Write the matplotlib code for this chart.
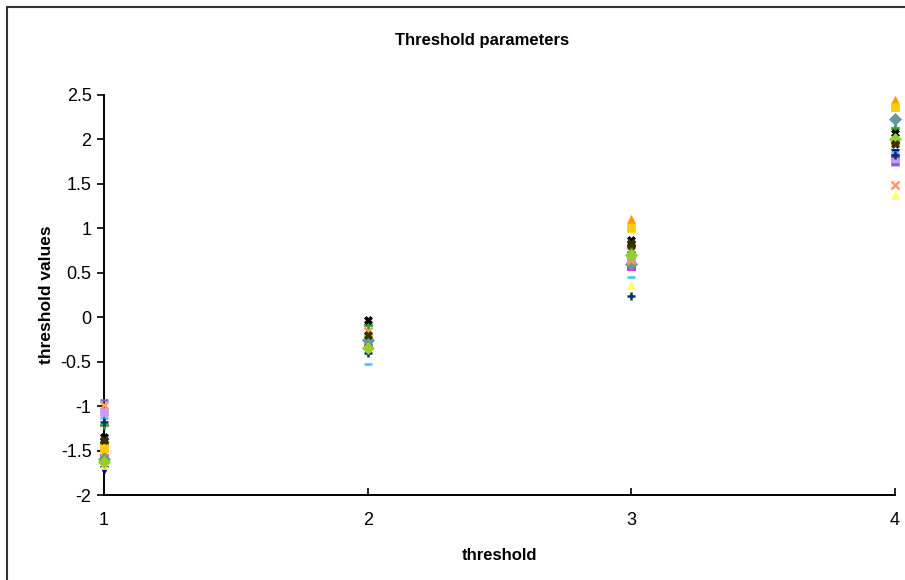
import matplotlib
matplotlib.use("Agg")
import matplotlib.pyplot as plt
from matplotlib.patches import Rectangle

plt.rcParams['font.family'] = ['Liberation Sans', 'DejaVu Sans']

thresholds = [1, 2, 3, 4]

# threshold estimates per item: values at thresholds 1..4
series_values = {
    "item01": [-1.72, -0.37, 0.62, 1.85],
    "item02": [-1.58, -0.28, 0.58, 1.79],
    "item03": [-1.66, -0.24, 0.36, 1.38],
    "item04": [-1.13, -0.53, 0.45, 1.86],
    "item05": [-1.07, -0.30, 0.67, 1.75],
    "item06": [-1.41, -0.33, 0.80, 1.97],
    "item07": [-1.21, -0.09, 0.73, 2.13],
    "item08": [-0.93, -0.18, 0.55, 1.72],
    "item09": [-1.52, -0.21, 1.10, 2.44],
    "item10": [-1.47, -0.23, 1.00, 2.36],
    "item11": [-1.60, -0.26, 0.60, 2.23],
    "item12": [-1.35, -0.03, 0.87, 2.07],
    "item13": [-1.18, -0.40, 0.24, 1.83],
    "item14": [-0.99, -0.16, 0.64, 1.49],
    "item15": [-1.63, -0.35, 0.70, 2.01],
    "item16": [-1.38, -0.20, 0.84, 1.95],
}

colors = ["#000080", "#FF00FF", "#FFFF66", "#33CCFF", "#CC99FF", "#663300",
          "#339933", "#6666CC", "#FF9900", "#FFCC00", "#669999", "#000000",
          "#003366", "#FF9966", "#99CC33", "#333300"]
markers = ["v", "s", "^", "_", "s", "o", "P", "_", "^", "s", "D", "X",
           "+", "x", "D", "X"]

fig = plt.figure(figsize=(9.05, 5.8), dpi=100)
fig.patch.set_facecolor("white")

# chart-area frame
fig.add_artist(Rectangle((7 / 905, -0.05), 1.1, 1 - 7 / 580 + 0.05,
                         transform=fig.transFigure, fill=False,
                         edgecolor="#333333", linewidth=1.5))

ax = fig.add_axes([104 / 905, 1 - 495 / 580, (895 - 104) / 905, 400 / 580])

for (name, vals), c, m in zip(series_values.items(), colors, markers):
    lw = 1.8 if m in ("+", "x", "_") else 0.5
    ax.plot(thresholds, vals, linestyle="none", marker=m, color=c,
            markersize=6, markeredgewidth=lw, markeredgecolor=c, label=name,
            clip_on=False, zorder=3)

ax.set_xlim(1, 4)
ax.set_ylim(-2, 2.5)
ax.set_xticks(thresholds)
ax.set_yticks([-2, -1.5, -1, -0.5, 0, 0.5, 1, 1.5, 2, 2.5])
ax.set_yticklabels(["-2", "-1.5", "-1", "-0.5", "0", "0.5", "1", "1.5", "2", "2.5"])

for s in ("top", "right"):
    ax.spines[s].set_visible(False)
for s in ("left", "bottom"):
    ax.spines[s].set_linewidth(1.4)
    ax.spines[s].set_color("black")

ax.tick_params(axis="y", direction="out", length=5, width=1.2, labelsize=13, pad=4)
ax.tick_params(axis="x", direction="in", length=5, width=1.2, labelsize=13, pad=12)

ax.set_xlabel("threshold", fontsize=12, fontweight="bold", labelpad=14)
ax.set_ylabel("threshold values", fontsize=12.5, fontweight="bold", labelpad=5)
fig.text(482 / 905, 1 - 40 / 580, "Threshold parameters",
         ha="center", va="center", fontsize=12, fontweight="bold")

fig.savefig("out.png", dpi=100)
